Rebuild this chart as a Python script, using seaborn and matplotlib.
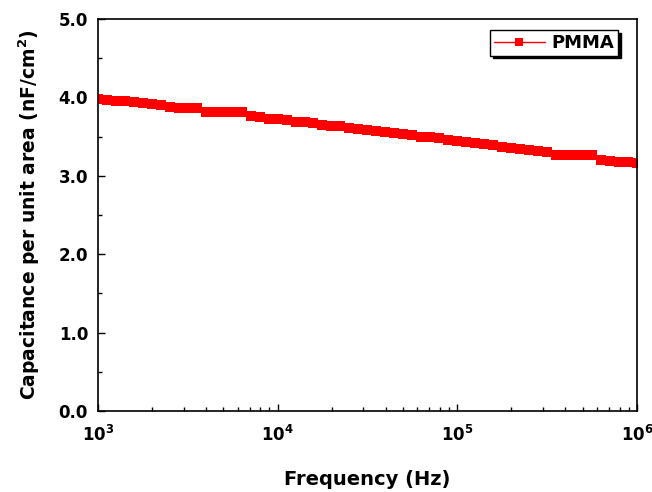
import numpy as np
import pandas as pd
import seaborn as sns
import matplotlib.pyplot as plt
from matplotlib.ticker import LogLocator, MultipleLocator, FuncFormatter, NullFormatter

# frequency sweep (Hz)
freq = [1000, 1122, 1259, 1413, 1585, 1778, 1995, 2239, 2512, 2818,
        3162, 3548, 3981, 4467, 5012, 5623, 6310, 7079, 7943, 8913,
        10000, 11220, 12590, 14130, 15850, 17780, 19950, 22390, 25120, 28180,
        31620, 35480, 39810, 44670, 50120, 56230, 63100, 70790, 79430, 89130,
        100000, 112200, 125900, 141300, 158500, 177800, 199500, 223900, 251200, 281800,
        316200, 354800, 398100, 446700, 501200, 562300, 631000, 707900, 794300, 891300,
        1000000]

# capacitance per unit area (nF/cm2)
cap = [3.98, 3.97, 3.96, 3.95, 3.94, 3.93, 3.92, 3.90, 3.88, 3.87,
       3.87, 3.87, 3.81, 3.81, 3.81, 3.81, 3.81, 3.76, 3.75, 3.73,
       3.72, 3.71, 3.69, 3.68, 3.67, 3.65, 3.64, 3.63, 3.61, 3.60,
       3.58, 3.57, 3.56, 3.54, 3.53, 3.52, 3.50, 3.49, 3.48, 3.46,
       3.45, 3.43, 3.42, 3.40, 3.39, 3.37, 3.36, 3.34, 3.33, 3.31,
       3.30, 3.26, 3.26, 3.26, 3.26, 3.26, 3.20, 3.19, 3.18, 3.17,
       3.16]

df = pd.DataFrame({'Frequency': freq, 'Capacitance': cap})

sns.set_style('ticks')
plt.rcParams['font.family'] = ['DejaVu Sans']
plt.rcParams['font.weight'] = 'bold'
plt.rcParams['mathtext.fontset'] = 'custom'
plt.rcParams['mathtext.rm'] = 'DejaVu Sans:bold'
plt.rcParams['mathtext.bf'] = 'DejaVu Sans:bold'
plt.rcParams['mathtext.default'] = 'rm'
for k in ['text.color', 'axes.labelcolor', 'xtick.color', 'ytick.color']:
    plt.rcParams[k] = 'black'

fig = plt.figure(figsize=(6.52, 4.92), dpi=100)
ax = fig.add_axes([0.150, 0.1646, 0.827, 0.7968])

sns.lineplot(data=df, x='Frequency', y='Capacitance', ax=ax, color='#ff0000',
             marker='s', markersize=7, markeredgewidth=0, linewidth=1.2,
             label='PMMA')

ax.set_xscale('log')
ax.set_xlim(1e3, 1e6)
ax.set_ylim(0, 5)

ax.xaxis.set_major_locator(LogLocator(base=10, numticks=10))
ax.xaxis.set_minor_locator(LogLocator(base=10, subs=np.arange(2, 10), numticks=10))
ax.xaxis.set_minor_formatter(NullFormatter())
ax.xaxis.set_major_formatter(FuncFormatter(lambda x, _: f'$10^{{{int(round(np.log10(x)))}}}$'))
ax.yaxis.set_major_locator(MultipleLocator(1.0))
ax.yaxis.set_minor_locator(MultipleLocator(0.5))
ax.yaxis.set_major_formatter(FuncFormatter(lambda y, _: f'{y:.1f}'))

ax.tick_params(axis='both', which='major', direction='in', length=5, width=1,
               labelsize=12)
ax.tick_params(axis='x', which='major', pad=10)
ax.tick_params(axis='y', which='major', pad=7)
ax.tick_params(axis='both', which='minor', direction='in', length=3, width=1)
for lab in ax.get_xticklabels() + ax.get_yticklabels():
    lab.set_fontweight('bold')

for s in ax.spines.values():
    s.set_visible(True)
    s.set_linewidth(1.2)
    s.set_color('black')

ax.set_xlabel('Frequency (Hz)', fontsize=14, fontweight='bold', labelpad=18)
ax.set_ylabel('Capacitance per unit area (nF/cm$^{2}$)', fontsize=13.5,
              fontweight='bold', labelpad=12)

leg = ax.legend(loc='upper right', frameon=True, fancybox=False,
                shadow={'color': 'black', 'alpha': 1},
                prop={'weight': 'bold', 'size': 13}, handlelength=2.8,
                handletextpad=0.4, borderpad=0.2, borderaxespad=0,
                bbox_to_anchor=(0.965, 0.971))
leg.get_frame().set_edgecolor('black')
leg.get_frame().set_linewidth(1)
leg.get_frame().set_alpha(1)
for h in leg.legend_handles:
    h.set_markersize(6)
    h.set_linewidth(1)

fig.savefig('out.png', dpi=100)
